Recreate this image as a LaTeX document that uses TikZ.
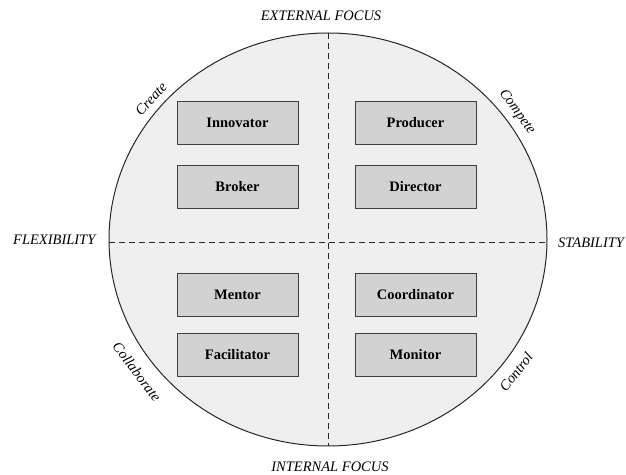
\documentclass[tikz,border=0pt]{standalone}
\usepackage{fontspec}
\setmainfont{Liberation Serif}
\definecolor{boxgray}{HTML}{D2D2D2}
\definecolor{circlegray}{HTML}{EFEFEF}
\newcommand\lblfont{\fontsize{14.5}{16}\selectfont\itshape}
\begin{document}
\begin{tikzpicture}[x=1pt,y=1pt,
  rolebox/.style={draw=black!75, fill=boxgray, line width=0.9pt, minimum width=121pt, minimum height=43pt, inner sep=0pt, font=\fontsize{14.5}{16}\selectfont\bfseries},
  axislabel/.style={font=\lblfont, inner sep=0pt},
  axisline/.style={dash pattern=on 6pt off 4pt, line width=0.9pt, draw=black!85}]
\useasboundingbox (0,0) rectangle (626,474);
\coordinate (c) at (328,234.5);
\draw[fill=circlegray, line width=1pt, draw=black!85] (c) ellipse [x radius=219, y radius=206.5];
\coordinate (top) at (328,441);
\coordinate (bot) at (328,28);
\coordinate (left) at (109,232);
\coordinate (right) at (547,232);
\draw[axisline] (top) -- (bot);
\draw[axisline] (left) -- (right);
\node[rolebox] (innovator) at (237.5,351.5) {Innovator};
\node[rolebox] (broker) at (237.5,287) {Broker};
\node[rolebox] (mentor) at (237.5,179) {Mentor};
\node[rolebox] (facilitator) at (237.5,119) {Facilitator};
\node[rolebox] (producer) at (415.5,351.5) {Producer};
\node[rolebox] (director) at (415.5,287) {Director};
\node[rolebox] (coordinator) at (415.5,179) {Coordinator};
\node[rolebox] (monitor) at (415.5,119) {Monitor};
\node[axislabel, anchor=base] (ext) at (321,453) {EXTERNAL FOCUS};
\node[axislabel, anchor=base] (int) at (330,2.5) {INTERNAL FOCUS};
\node[axislabel, anchor=base west] (flex) at (13,229) {FLEXIBILITY};
\node[axislabel, anchor=base west] (stab) at (558,226) {STABILITY};
\node[axislabel, rotate=47] (create) at (151,375) {Create};
\node[axislabel, rotate=-54] (compete) at (517,362) {Compete};
\node[axislabel, rotate=-53] (collab) at (137,102) {Collaborate};
\node[axislabel, rotate=52] (control) at (516,102) {Control};
\end{tikzpicture}
\end{document}
